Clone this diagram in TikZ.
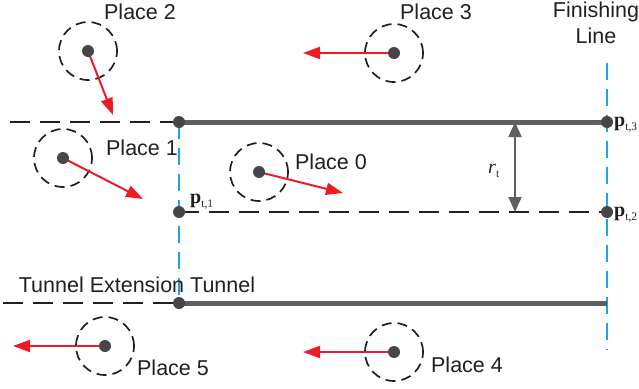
\documentclass[tikz,border=0pt]{standalone}
\usepackage{fontspec}
\setmainfont{Liberation Sans}
\newfontfamily\lserif{Liberation Serif}
\usetikzlibrary{arrows.meta}
\definecolor{txt}{RGB}{35,31,32}
\definecolor{wall}{RGB}{95,95,95}
\definecolor{dotc}{RGB}{70,70,70}
\definecolor{finblue}{RGB}{30,165,225}
\definecolor{mvred}{RGB}{236,28,36}
\tikzset{
  placec/.style={circle, draw=txt, dash pattern=on 10pt off 6pt, line width=1.7pt, minimum size=58pt, inner sep=0pt},
  ctr/.style={circle, fill=dotc, minimum size=12pt, inner sep=0pt},
  move/.style={draw=mvred, line width=2pt, -{Triangle[length=17pt,width=12pt]}, shorten <=-5pt},
  wallline/.style={draw=wall, line width=5pt},
  extline/.style={draw=txt, line width=2.3pt, dash pattern=on 20pt off 10pt},
  finline/.style={draw=finblue, line width=2.2pt, dash pattern=on 17pt off 9pt},
  lbl/.style={anchor=base, inner sep=0pt},
  gap/.style={draw=wall, line width=2pt, {Triangle[length=15pt,width=13pt]}-{Triangle[length=15pt,width=13pt]}},
  plbl/.style={anchor=base west, inner sep=0pt, font=\lserif\fontsize{20}{20}\selectfont}
}
\newcommand{\ptlabel}[1]{\textbf{p}\raisebox{-4pt}{\fontsize{11.5}{11.5}\selectfont t,#1}}
\begin{document}
\begin{tikzpicture}[x=1pt,y=-1pt, font=\fontsize{21.5}{26}\selectfont, text=txt]
\useasboundingbox (0,0) rectangle (639,388);
% coordinates
\coordinate (tl) at (179,122);
\coordinate (tr) at (607,122);
\coordinate (ml) at (179,212);
\coordinate (mr) at (607,212);
\coordinate (bl) at (179,303);
\coordinate (br) at (607,303);
\coordinate (extt) at (10,122);
\coordinate (extb) at (3,303);
\coordinate (fintop) at (607,63);
\coordinate (finbot) at (607,350);
\coordinate (tunbot) at (179,298);
\coordinate (gtop) at (515,122);
\coordinate (gbot) at (515,212);
% extension & centre line
\draw[extline] (extt) -- (tl);
\draw[extline] (extb) -- (bl);
\draw[extline] (ml) -- (mr);
% blue lines
\draw[finline] (tl) -- (tunbot);
\draw[finline] (fintop) -- (finbot);
% walls
\draw[wallline] (tl) -- (tr);
\draw[wallline] (bl) -- (br);
% gap arrow
\draw[gap] (gtop) -- (gbot);
\node[anchor=base west, inner sep=0pt, font=\lserif\fontsize{20}{20}\selectfont] (rt) at (488,173) {\textit{r}\raisebox{-4pt}{\fontsize{11.5}{11.5}\selectfont t}};
% tunnel dots
\node[ctr] (dtl) at (tl) {};
\node[ctr] (dtr) at (tr) {};
\node[ctr] (dml) at (ml) {};
\node[ctr] (dmr) at (mr) {};
\node[ctr] (dbl) at (bl) {};
\node[plbl] (pt1) at (190,203) {\ptlabel{1}};
\node[plbl] (pt3) at (614,126) {\ptlabel{3}};
\node[plbl] (pt2) at (614,216) {\ptlabel{2}};
% places
\node[placec] (c0) at (259,172) {};
\node[placec] (c1) at (63,158) {};
\node[placec] (c2) at (88,51) {};
\node[placec] (c3) at (394,53) {};
\node[placec] (c4) at (394,352) {};
\node[placec] (c5) at (105,346) {};
\coordinate (t0) at (343,193);
\coordinate (t1) at (143,199);
\coordinate (t2) at (113,115);
\coordinate (t3) at (303,53);
\coordinate (t4) at (303,352);
\coordinate (t5) at (13,346);
\foreach \i in {0,...,5} {
  \draw[move] (c\i.center) -- (t\i);
  \node[ctr] (d\i) at (c\i) {};
}
% labels
\node[lbl] (l0) at (331,169) {Place 0};
\node[lbl] (l1) at (142,155) {Place 1};
\node[lbl] (l2) at (140,19) {Place 2};
\node[lbl] (l3) at (436,19) {Place 3};
\node[lbl] (l4) at (467,372) {Place 4};
\node[lbl] (l5) at (173,375) {Place 5};
\node[lbl] (tun) at (137,292) {Tunnel Extension Tunnel};
\node[lbl] (fin1) at (596,17) {Finishing};
\node[lbl] (fin2) at (596,43) {Line};
\end{tikzpicture}
\end{document}
